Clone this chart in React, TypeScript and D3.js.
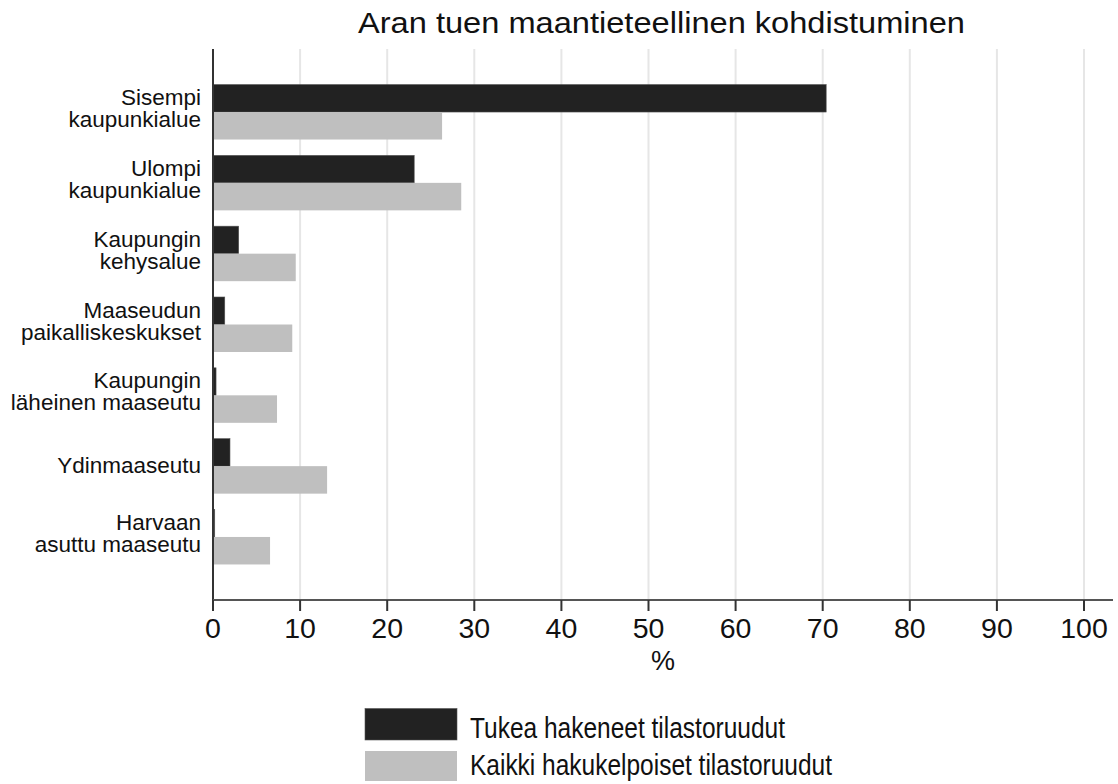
import React from "react";
import * as d3 from "d3";

const categories: string[][] = [
  ["Sisempi", "kaupunkialue"],
  ["Ulompi", "kaupunkialue"],
  ["Kaupungin", "kehysalue"],
  ["Maaseudun", "paikalliskeskukset"],
  ["Kaupungin", "läheinen maaseutu"],
  ["Ydinmaaseutu"],
  ["Harvaan", "asuttu maaseutu"],
];
const applied: number[] = [70.4, 23.1, 2.95, 1.35, 0.35, 1.95, 0.2];
const eligible: number[] = [26.3, 28.5, 9.5, 9.1, 7.35, 13.1, 6.55];
const xTicks: number[] = [0, 10, 20, 30, 40, 50, 60, 70, 80, 90, 100];
const seriesNames: string[] = ["Tukea hakeneet tilastoruudut", "Kaikki hakukelpoiset tilastoruudut"];
const title = "Aran tuen maantieteellinen kohdistuminen";
const xTitle = "%";

const W = 1118;
const H = 784;
const FONT = "'Liberation Sans', Arial, Helvetica, sans-serif";
const DARK = "#222222";
const LIGHT = "#bfbfbf";

export default function App() {
  const left = 213;
  const top = 49;
  const bottom = 600;
  const x = d3.scaleLinear().domain([0, 100]).range([left, 1084]);
  const ids = categories.map((_, i) => String(i));
  const y = d3.scalePoint<string>().domain(ids).range([top, bottom]).padding(0.89);
  const bh = 27.5;

  return (
    <div style={{ position: "absolute", left: 0, top: 0 }}>
      <svg width={W} height={H} style={{ display: "block", background: "#fff" }} fontFamily={FONT}>
        <rect x={0} y={0} width={W} height={H} fill="#fff" />
        <text x={661.5} y={33} textAnchor="middle" fontSize={30} fill="#111" textLength={607} lengthAdjust="spacingAndGlyphs">
          {title}
        </text>
        {/* gridlines */}
        {xTicks.filter((t) => t > 0).map((t) => (
          <line key={"g" + t} x1={x(t)} x2={x(t)} y1={top} y2={bottom} stroke="#e6e6e6" strokeWidth={2} />
        ))}
        {/* bars */}
        {ids.map((id, i) => {
          const c = y(id)!;
          return (
            <g key={"b" + id}>
              <rect x={x(0)} y={c - bh} width={Math.max(0, x(applied[i]) - x(0))} height={bh} fill={DARK} stroke="#555" strokeWidth={0.6} />
              <rect x={x(0)} y={c} width={Math.max(0, x(eligible[i]) - x(0))} height={bh} fill={LIGHT} />
            </g>
          );
        })}
        {/* axes */}
        <line x1={left} x2={left} y1={top} y2={bottom + 1} stroke="#333" strokeWidth={2} />
        <line x1={left} x2={1113} y1={bottom} y2={bottom} stroke="#555" strokeWidth={2} />
        {xTicks.map((t) => (
          <g key={"t" + t}>
            <line x1={x(t)} x2={x(t)} y1={bottom} y2={611} stroke="#333" strokeWidth={2} />
            <text x={x(t)} y={638} textAnchor="middle" fontSize={28.5} fill="#111">
              {t}
            </text>
          </g>
        ))}
        <text x={663} y={670} textAnchor="middle" fontSize={27} fill="#111">
          {xTitle}
        </text>
        {/* category labels */}
        {ids.map((id, i) => {
          const c = y(id)!;
          const lines = categories[i];
          if (lines.length === 1) {
            return (
              <text key={"l" + id} x={201} y={c + 7} textAnchor="end" fontSize={22.5} fill="#111">
                {lines[0]}
              </text>
            );
          }
          return (
            <text key={"l" + id} x={201} textAnchor="end" fontSize={22.5} fill="#111">
              <tspan x={201} y={c - 7}>{lines[0]}</tspan>
              <tspan x={201} y={c + 15}>{lines[1]}</tspan>
            </text>
          );
        })}
        {/* legend */}
        <rect x={365} y={708.5} width={92} height={31.5} fill={DARK} stroke="#555" strokeWidth={0.6} />
        <rect x={365} y={751} width={92} height={30} fill={LIGHT} />
        <text x={470} y={738} fontSize={30} fill="#111" textLength={315} lengthAdjust="spacingAndGlyphs">
          {seriesNames[0]}
        </text>
        <text x={470} y={775} fontSize={30} fill="#111" textLength={362} lengthAdjust="spacingAndGlyphs">
          {seriesNames[1]}
        </text>
      </svg>
    </div>
  );
}
